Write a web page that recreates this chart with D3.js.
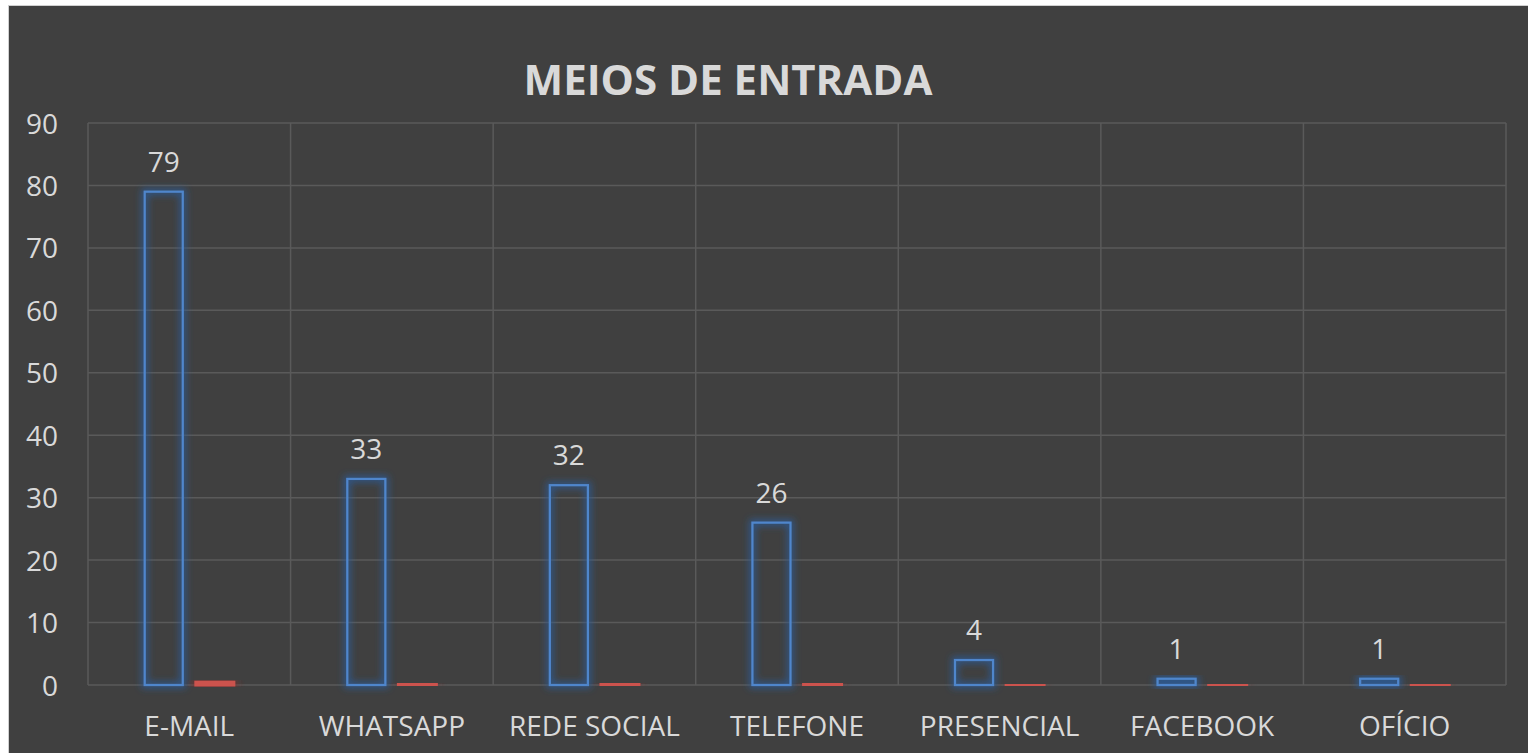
<!DOCTYPE html>
<meta charset="utf-8">
<style>
body {
  margin: 0;
  background-color: #fff;
}
svg {
  position: absolute;
  left: 0;
  top: 0;
  font-family: 'Open Sans', sans-serif;
}
.grid line {
  stroke: #5a5a5a;
  stroke-width: 1.5px;
}
.label {
  fill: #d9d9d9;
}
</style>
<svg width="1528" height="753"></svg>
<script src="https://d3js.org/d3.v7.min.js"></script>
<script>
var categories = ["E-MAIL", "WHATSAPP", "REDE SOCIAL", "TELEFONE", "PRESENCIAL", "FACEBOOK", "OFÍCIO"];
var quantidade = [79, 33, 32, 26, 4, 1, 1];
var percentual = [0.45, 0.19, 0.18, 0.15, 0.02, 0.01, 0.01];
var yTicks = [0, 10, 20, 30, 40, 50, 60, 70, 80, 90];

var svg = d3.select("svg"),
    width = +svg.attr("width"),
    height = +svg.attr("height");

var margin = {left: 88, right: 22, top: 123, bottom: 68};

// chart background with thin border like the source
svg.append("rect")
    .attr("x", 8.5).attr("y", 5.5)
    .attr("width", width).attr("height", height)
    .attr("fill", "#404040")
    .attr("stroke", "#d0d0d0")
    .attr("stroke-width", 1);

var defs = svg.append("defs");
function glow(id, color) {
  var f = defs.append("filter").attr("id", id)
      .attr("x", "-60%").attr("y", "-60%").attr("width", "220%").attr("height", "220%");
  f.append("feMorphology").attr("in", "SourceAlpha").attr("operator", "dilate").attr("radius", 1.5).attr("result", "fat");
  f.append("feGaussianBlur").attr("in", "fat").attr("stdDeviation", 3.5).attr("result", "blur");
  f.append("feFlood").attr("flood-color", color).attr("flood-opacity", 0.9);
  f.append("feComposite").attr("in2", "blur").attr("operator", "in").attr("result", "glow");
  var m = f.append("feMerge");
  m.append("feMergeNode").attr("in", "glow");
  m.append("feMergeNode").attr("in", "SourceGraphic");
}
glow("glowBlue", "#2c5a94");
glow("glowRed", "#8a2e2b");

var x = d3.scaleBand()
    .domain(categories)
    .range([margin.left, width - margin.right]);

var y = d3.scaleLinear()
    .domain([0, 90])
    .range([height - margin.bottom, margin.top]);

// grid
var grid = svg.append("g").attr("class", "grid");
grid.selectAll(".h").data(yTicks).enter().append("line")
    .attr("x1", margin.left).attr("x2", width - margin.right)
    .attr("y1", function(d) { return y(d); })
    .attr("y2", function(d) { return y(d); });
var edges = categories.map(function(c) { return x(c); }).concat([width - margin.right]);
grid.selectAll(".v").data(edges).enter().append("line")
    .attr("x1", function(d) { return d; }).attr("x2", function(d) { return d; })
    .attr("y1", y(90)).attr("y2", y(0));

// y axis labels
var yAxis = svg.append("g")
    .attr("transform", "translate(" + (margin.left - 30) + ",0)")
    .call(d3.axisLeft(y).tickValues(yTicks).tickSize(0).tickPadding(0));
yAxis.select(".domain").remove();
yAxis.selectAll("text")
    .attr("class", "label")
    .attr("font-size", 28)
    .attr("font-family", "'Open Sans', sans-serif")
    .attr("dy", "0.36em");

// x axis labels
var xAxis = svg.append("g")
    .attr("transform", "translate(0," + y(0) + ")")
    .call(d3.axisBottom(x).tickSize(0).tickPadding(0));
xAxis.select(".domain").remove();
xAxis.selectAll("text")
    .attr("class", "label")
    .attr("font-size", 28)
    .attr("font-family", "'Open Sans', sans-serif")
    .attr("dy", null)
    .attr("y", 51);

var inner = d3.scaleBand()
    .domain([0, 1])
    .range([0, x.bandwidth()])
    .paddingInner(0.255)
    .paddingOuter(1.11);

// blue series
svg.append("g").selectAll("rect")
    .data(quantidade)
    .enter().append("rect")
      .attr("x", function(d, i) { return x(categories[i]) + inner(0); })
      .attr("y", function(d) { return y(d); })
      .attr("width", inner.bandwidth())
      .attr("height", function(d) { return y(0) - y(d); })
      .attr("fill", "none")
      .attr("stroke", "#4f86cc")
      .attr("stroke-width", 2.2)
      .attr("filter", "url(#glowBlue)");

// red series
svg.append("g").selectAll("rect")
    .data(percentual)
    .enter().append("rect")
      .attr("x", function(d, i) { return x(categories[i]) + inner(1); })
      .attr("y", function(d) { return y(d); })
      .attr("width", inner.bandwidth())
      .attr("height", function(d) { return y(0) - y(d); })
      .attr("fill", "none")
      .attr("stroke", "#cc524e")
      .attr("stroke-width", 2.9)
      .attr("filter", "url(#glowRed)");

// data labels
svg.append("g").selectAll("text")
    .data(quantidade)
    .enter().append("text")
      .attr("class", "label")
      .attr("x", function(d, i) { return x(categories[i]) + inner(0) + inner.bandwidth() / 2; })
      .attr("y", function(d) { return y(d) - 20; })
      .attr("text-anchor", "middle")
      .attr("font-size", 28)
      .text(function(d) { return d; });

// title
svg.append("text")
    .attr("class", "label")
    .attr("x", 728)
    .attr("y", 95)
    .attr("text-anchor", "middle")
    .attr("font-size", 42)
    .attr("font-weight", "bold")
    .text("MEIOS DE ENTRADA");
</script>
